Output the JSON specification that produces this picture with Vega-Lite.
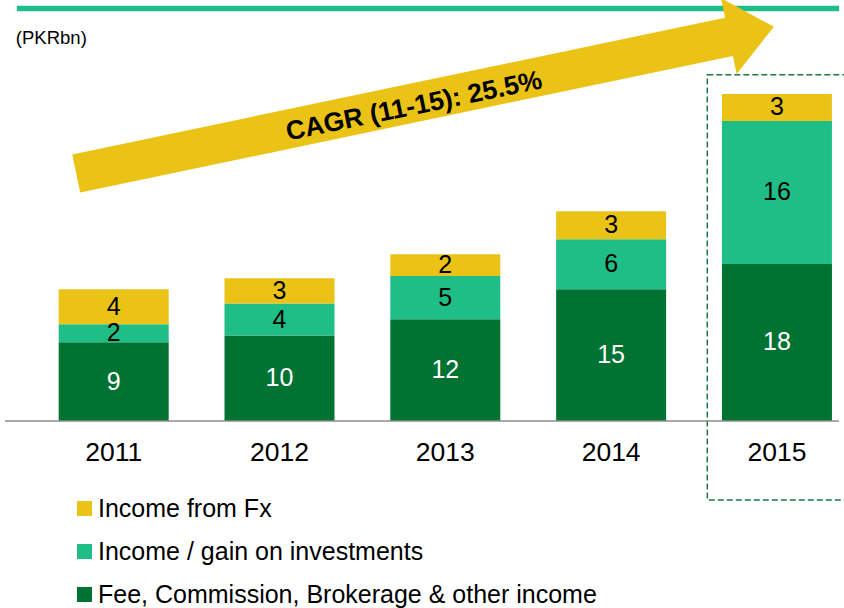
{
  "$schema": "https://vega.github.io/schema/vega-lite/v6.json",
  "width": 844,
  "height": 608,
  "autosize": "none",
  "padding": 0,
  "background": "white",
  "config": {
    "view": {"stroke": null},
    "font": "Liberation Sans",
    "text": {"font": "Liberation Sans"},
    "legend": {
      "orient": "none",
      "legendX": 72,
      "legendY": 496,
      "padding": 0,
      "symbolType": "square",
      "symbolSize": 225,
      "symbolStrokeWidth": 0,
      "labelFont": "Liberation Sans",
      "labelFontSize": 25,
      "labelColor": "#000000",
      "labelLimit": 1000,
      "labelOffset": 1,
      "rowPadding": 17
    }
  },
  "datasets": {
    "income": [
      {"year": 2011, "category": "Fee, Commission, Brokerage & other income", "value": 9.05},
      {"year": 2011, "category": "Income / gain on investments", "value": 2.07},
      {"year": 2011, "category": "Income from Fx", "value": 4.02},
      {"year": 2012, "category": "Fee, Commission, Brokerage & other income", "value": 9.82},
      {"year": 2012, "category": "Income / gain on investments", "value": 3.68},
      {"year": 2012, "category": "Income from Fx", "value": 2.91},
      {"year": 2013, "category": "Fee, Commission, Brokerage & other income", "value": 11.69},
      {"year": 2013, "category": "Income / gain on investments", "value": 4.98},
      {"year": 2013, "category": "Income from Fx", "value": 2.49},
      {"year": 2014, "category": "Fee, Commission, Brokerage & other income", "value": 15.14},
      {"year": 2014, "category": "Income / gain on investments", "value": 5.75},
      {"year": 2014, "category": "Income from Fx", "value": 3.22},
      {"year": 2015, "category": "Fee, Commission, Brokerage & other income", "value": 18.05},
      {"year": 2015, "category": "Income / gain on investments", "value": 16.44},
      {"year": 2015, "category": "Income from Fx", "value": 3.1}
    ]
  },
  "layer": [
    {
      "data": {"values": [{"item": "header rule"}]},
      "mark": {"type": "rule", "color": "#1FBE86", "strokeWidth": 5.5},
      "encoding": {
        "x": {"datum": 2010.416, "type": "quantitative", "scale": {"domain": [2010.3445, 2015.3743], "nice": false, "zero": false}, "axis": null},
        "x2": {"datum": 2015.3743},
        "y": {"datum": 47.41, "type": "quantitative", "scale": {"domain": [-21.494, 48.391], "nice": false, "zero": false}, "axis": null}
      }
    },
    {
      "data": {"values": [{"item": "2015 highlight"}]},
      "mark": {"type": "rect", "filled": false, "color": "#1B7A3D", "strokeWidth": 1.5, "strokeDash": [6, 3]},
      "encoding": {
        "x": {"datum": 2014.58, "type": "quantitative", "scale": {"domain": [2010.3445, 2015.3743], "nice": false, "zero": false}, "axis": null},
        "x2": {"datum": 2015.6},
        "y": {"datum": 39.8, "type": "quantitative", "scale": {"domain": [-21.494, 48.391], "nice": false, "zero": false}, "axis": null},
        "y2": {"datum": -9.08}
      }
    },
    {
      "data": {"name": "income"},
      "transform": [
        {"stack": "value", "groupby": ["year"], "sort": [{"field": "category", "order": "ascending"}], "as": ["v0", "v1"]}
      ],
      "mark": {"type": "bar", "width": 110},
      "encoding": {
        "x": {"field": "year", "type": "quantitative", "scale": {"domain": [2010.3445, 2015.3743], "nice": false, "zero": false}, "axis": null},
        "y": {"field": "v0", "type": "quantitative", "scale": {"domain": [-21.494, 48.391], "nice": false, "zero": false}, "axis": null},
        "y2": {"field": "v1"},
        "color": {
          "field": "category",
          "type": "nominal",
          "scale": {
            "domain": ["Income from Fx", "Income / gain on investments", "Fee, Commission, Brokerage & other income"],
            "range": ["#EBC316", "#1FBE86", "#007232"]
          },
          "legend": {"title": null}
        }
      }
    },
    {
      "data": {"name": "income"},
      "transform": [
        {"stack": "value", "groupby": ["year"], "sort": [{"field": "category", "order": "ascending"}], "as": ["v0", "v1"]},
        {"calculate": "(datum.v0 + datum.v1) / 2", "as": "vmid"}
      ],
      "mark": {"type": "text", "fontSize": 25, "align": "center", "baseline": "middle"},
      "encoding": {
        "x": {"field": "year", "type": "quantitative", "scale": {"domain": [2010.3445, 2015.3743], "nice": false, "zero": false}, "axis": null},
        "y": {"field": "vmid", "type": "quantitative", "scale": {"domain": [-21.494, 48.391], "nice": false, "zero": false}, "axis": null},
        "text": {"field": "value", "type": "quantitative", "format": ".0f"},
        "color": {
          "condition": {"test": "datum.category === 'Fee, Commission, Brokerage & other income'", "value": "#FFFFFF"},
          "value": "#000000"
        }
      }
    },
    {
      "data": {"name": "income"},
      "transform": [{"filter": "datum.category === 'Income from Fx'"}],
      "mark": {"type": "text", "fontSize": 26.5, "align": "center", "baseline": "middle", "color": "#000000"},
      "encoding": {
        "x": {"field": "year", "type": "quantitative", "scale": {"domain": [2010.3445, 2015.3743], "nice": false, "zero": false}, "axis": null},
        "y": {"datum": -3.7, "type": "quantitative", "scale": {"domain": [-21.494, 48.391], "nice": false, "zero": false}, "axis": null},
        "text": {"field": "year", "type": "nominal"}
      }
    },
    {
      "data": {"values": [{"item": "baseline"}]},
      "mark": {"type": "rule", "color": "#8C8C8C", "strokeWidth": 1.5},
      "encoding": {
        "x": {"datum": 2010.3445, "type": "quantitative", "scale": {"domain": [2010.3445, 2015.3743], "nice": false, "zero": false}, "axis": null},
        "x2": {"datum": 2015.3743},
        "y": {"datum": 0, "type": "quantitative", "scale": {"domain": [-21.494, 48.391], "nice": false, "zero": false}, "axis": null}
      }
    },
    {
      "data": {"values": [{"item": "CAGR arrow shaft"}]},
      "mark": {"type": "rule", "color": "#EBC316", "strokeWidth": 39, "strokeCap": "butt"},
      "encoding": {
        "x": {"datum": 2010.774, "type": "quantitative", "scale": {"domain": [2010.3445, 2015.3743], "nice": false, "zero": false}, "axis": null},
        "x2": {"datum": 2014.725},
        "y": {"datum": 28.45, "type": "quantitative", "scale": {"domain": [-21.494, 48.391], "nice": false, "zero": false}, "axis": null},
        "y2": {"datum": 44.21}
      }
    },
    {
      "data": {"values": [{"item": "CAGR arrow head"}]},
      "mark": {"type": "point", "shape": "M 0 -0.84 L 1 0 L 0 0.84 Z", "size": 8464, "angle": -11.6, "filled": true, "color": "#EBC316", "opacity": 1, "strokeWidth": 0},
      "encoding": {
        "x": {"datum": 2014.71, "type": "quantitative", "scale": {"domain": [2010.3445, 2015.3743], "nice": false, "zero": false}, "axis": null},
        "y": {"datum": 44.25, "type": "quantitative", "scale": {"domain": [-21.494, 48.391], "nice": false, "zero": false}, "axis": null}
      }
    },
    {
      "data": {"values": [{"label": "CAGR (11-15): 25.5%"}]},
      "mark": {"type": "text", "fontSize": 26.5, "fontWeight": "bold", "align": "center", "baseline": "middle", "angle": 348.4, "color": "#000000"},
      "encoding": {
        "x": {"datum": 2012.812, "type": "quantitative", "scale": {"domain": [2010.3445, 2015.3743], "nice": false, "zero": false}, "axis": null},
        "y": {"datum": 36.15, "type": "quantitative", "scale": {"domain": [-21.494, 48.391], "nice": false, "zero": false}, "axis": null},
        "text": {"field": "label", "type": "nominal"}
      }
    },
    {
      "data": {"values": [{"label": "(PKRbn)"}]},
      "mark": {"type": "text", "fontSize": 18.5, "align": "left", "baseline": "middle", "color": "#000000"},
      "encoding": {
        "x": {"datum": 2010.41, "type": "quantitative", "scale": {"domain": [2010.3445, 2015.3743], "nice": false, "zero": false}, "axis": null},
        "y": {"datum": 44.02, "type": "quantitative", "scale": {"domain": [-21.494, 48.391], "nice": false, "zero": false}, "axis": null},
        "text": {"field": "label", "type": "nominal"}
      }
    }
  ]
}
